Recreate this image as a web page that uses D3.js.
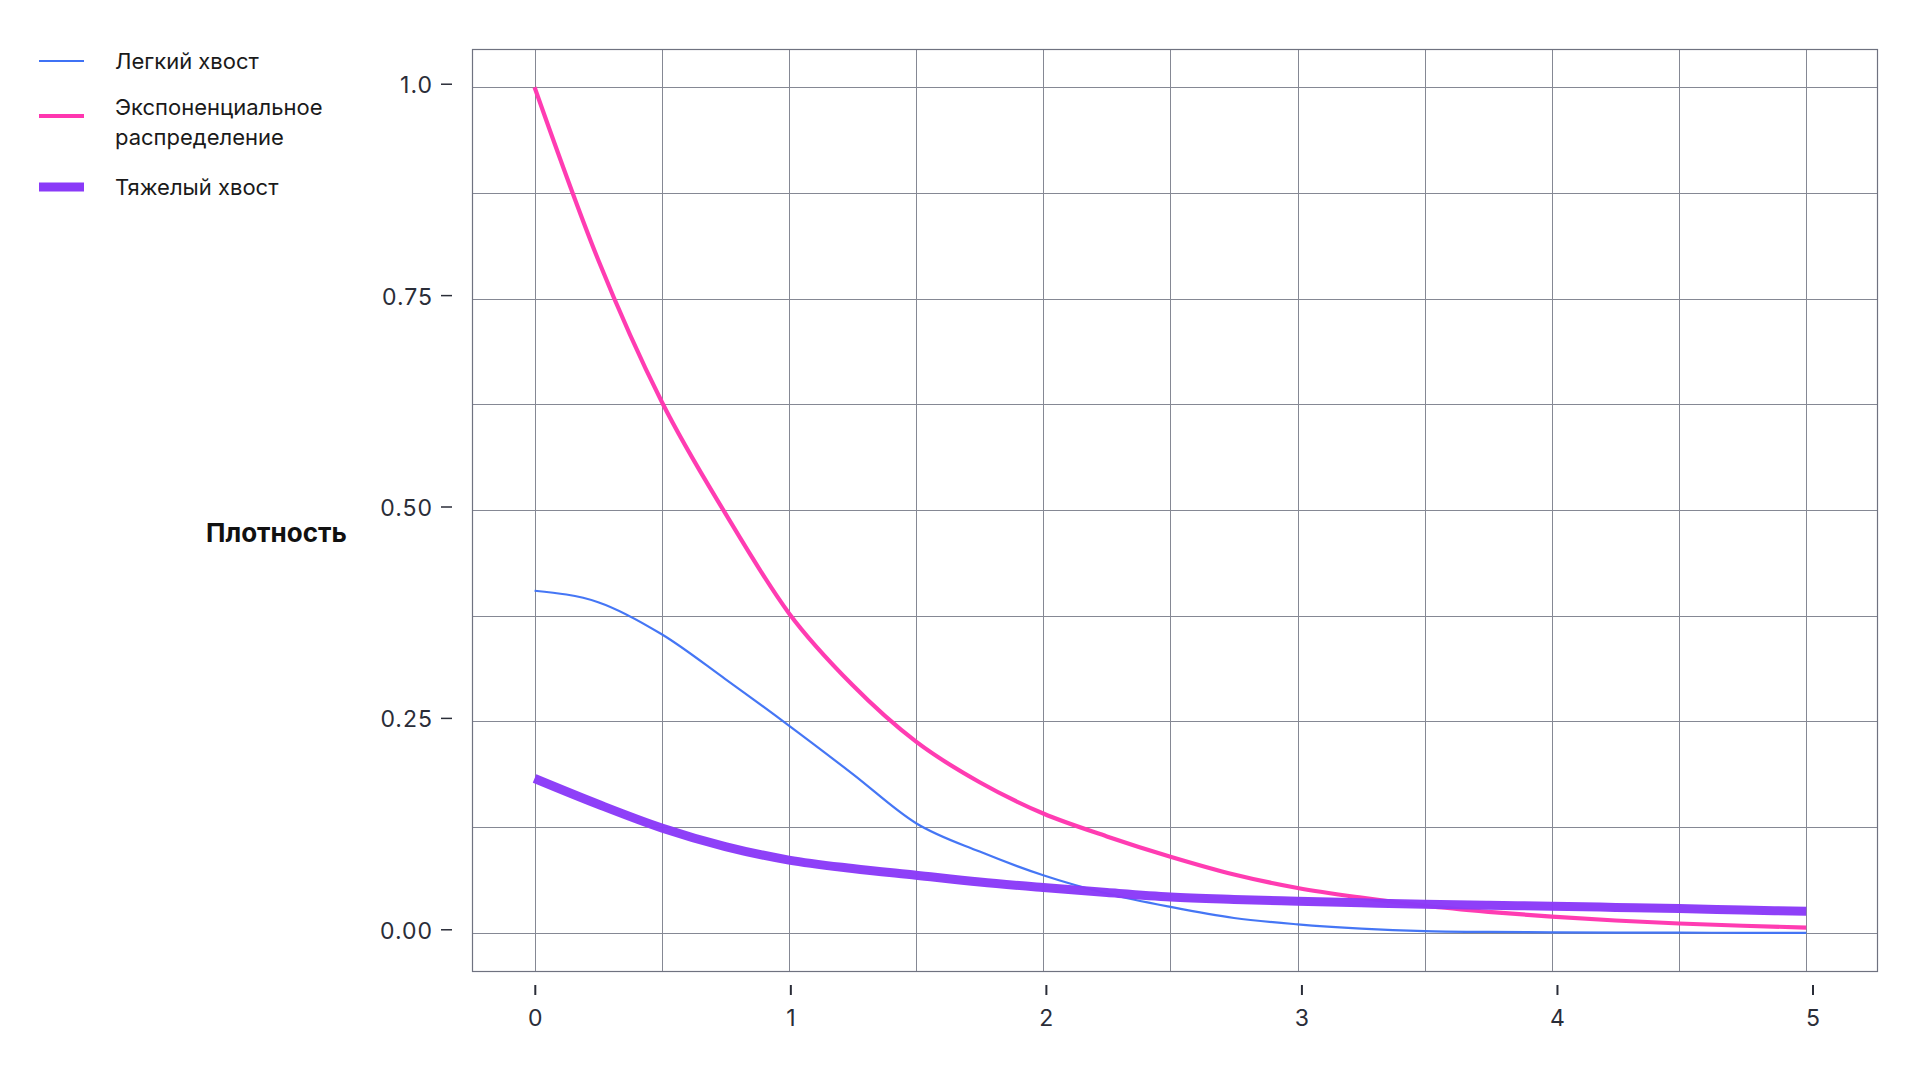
<!DOCTYPE html>
<html>
<head>
<meta charset="utf-8">
<script src="https://cdn.jsdelivr.net/npm/d3@7"></script>
<style>
  html, body { margin: 0; padding: 0; background: #ffffff; }
  svg { display: block; font-family: Inter, "Noto Sans", sans-serif; }
</style>
</head>
<body>
<svg id="chart" width="1921" height="1081"></svg>
<script>
// ---- data ----
const xs = [0, 0.25, 0.5, 0.75, 1, 1.25, 1.5, 1.75, 2, 2.25, 2.5, 2.75, 3, 3.25, 3.5, 3.75, 4, 4.25, 4.5, 4.75, 5];
const lightTail = [0.4045, 0.391, 0.353, 0.300, 0.245, 0.188, 0.1296, 0.096, 0.068, 0.0464, 0.0306, 0.0175, 0.010, 0.005, 0.002, 0.001, 0.0005, 0.0002, 0.0001, 0.0, 0.0];
const exponential = [1.0, 0.796, 0.628, 0.496, 0.378, 0.293, 0.226, 0.178, 0.141, 0.114, 0.090, 0.069, 0.053, 0.0415, 0.032, 0.0248, 0.019, 0.0145, 0.011, 0.0083, 0.0062];
const heavyTail = [0.1825, 0.152, 0.124, 0.102, 0.086, 0.076, 0.068, 0.060, 0.0535, 0.0476, 0.0424, 0.0395, 0.0373, 0.0354, 0.0337, 0.0325, 0.0315, 0.030, 0.0286, 0.027, 0.0254];
const seriesNames = ["Легкий хвост", "Экспоненциальное распределение", "Тяжелый хвост"];
const xTicks = [0, 1, 2, 3, 4, 5];
const xTickLabels = ["0", "1", "2", "3", "4", "5"];
const yTicks = [0, 0.25, 0.5, 0.75, 1.0];
const yTickLabels = ["0.00", "0.25", "0.50", "0.75", "1.0"];
const xGrid = [0, 0.5, 1, 1.5, 2, 2.5, 3, 3.5, 4, 4.5, 5];
const yGrid = [0, 0.125, 0.25, 0.375, 0.5, 0.625, 0.75, 0.875, 1.0];
const yTitle = "Плотность";

// ---- layout ----
const panel = { left: 472, right: 1877, top: 49, bottom: 971 };
const x = d3.scaleLinear().domain([-0.246, 5.278]).range([panel.left, panel.right]);
const xTickScale = d3.scaleLinear().domain([0, 5]).range([535.3, 1813]);
const y = d3.scaleLinear().domain([-0.0452, 1.0452]).range([panel.bottom, panel.top]);

const svg = d3.select("#chart");
const gridColor = "#858894";

// gridlines
const g = svg.append("g");
g.selectAll("line.vx").data(xGrid).enter().append("line")
  .attr("x1", d => Math.round(x(d)) + 0.5).attr("x2", d => Math.round(x(d)) + 0.5)
  .attr("y1", panel.top).attr("y2", panel.bottom)
  .attr("stroke", gridColor).attr("stroke-width", 1);
g.selectAll("line.hy").data(yGrid).enter().append("line")
  .attr("y1", d => Math.round(y(d)) + 0.5).attr("y2", d => Math.round(y(d)) + 0.5)
  .attr("x1", panel.left).attr("x2", panel.right)
  .attr("stroke", gridColor).attr("stroke-width", 1);

// panel border
svg.append("rect")
  .attr("x", panel.left + 0.5).attr("y", panel.top + 0.5)
  .attr("width", panel.right - panel.left).attr("height", panel.bottom - panel.top)
  .attr("fill", "none").attr("stroke", "#6f7280").attr("stroke-width", 1.2);

// clip
svg.append("clipPath").attr("id", "clip").append("rect")
  .attr("x", panel.left).attr("y", panel.top)
  .attr("width", panel.right - panel.left).attr("height", panel.bottom - panel.top);

// lines
const series = [
  { name: seriesNames[0], values: lightTail, color: "#3f72f5", width: 2.2 },
  { name: seriesNames[1], values: exponential, color: "#ff36b0", width: 4.2 },
  { name: seriesNames[2], values: heavyTail, color: "#8a3af8", width: 9 }
];
const line = d3.line().x(d => x(d[0])).y(d => y(d[1])).curve(d3.curveMonotoneX);
svg.append("g").attr("clip-path", "url(#clip)")
  .selectAll("path").data(series).enter().append("path")
  .attr("d", s => line(xs.map((v, i) => [v, s.values[i]])))
  .attr("fill", "none").attr("stroke", s => s.color).attr("stroke-width", s => s.width)
  .attr("stroke-linejoin", "round").attr("stroke-linecap", "butt").attr("opacity", 0.97);

// y axis ticks + labels
const yAxis = svg.append("g");
yAxis.selectAll("line").data(yTicks).enter().append("line")
  .attr("x1", 441).attr("x2", 452)
  .attr("y1", d => y(d) - 3).attr("y2", d => y(d) - 3)
  .attr("stroke", "#2a2d38").attr("stroke-width", 1.5);
yAxis.selectAll("text").data(yTicks).enter().append("text")
  .attr("x", 433).attr("y", d => y(d) - 2)
  .attr("text-anchor", "end").attr("dominant-baseline", "central")
  .attr("font-size", 23).attr("letter-spacing", 1).attr("fill", "#2a2d38")
  .text((d, i) => yTickLabels[i]);

// x axis ticks + labels
const xAxis = svg.append("g");
xAxis.selectAll("line").data(xTicks).enter().append("line")
  .attr("x1", d => xTickScale(d)).attr("x2", d => xTickScale(d))
  .attr("y1", 985).attr("y2", 995)
  .attr("stroke", "#2a2d38").attr("stroke-width", 2);
xAxis.selectAll("text").data(xTicks).enter().append("text")
  .attr("x", d => xTickScale(d)).attr("y", 1018)
  .attr("text-anchor", "middle").attr("dominant-baseline", "central")
  .attr("font-size", 23).attr("fill", "#2a2d38")
  .text((d, i) => xTickLabels[i]);

// y title
svg.append("text")
  .attr("x", 206).attr("y", 532)
  .attr("dominant-baseline", "central")
  .attr("font-size", 26).attr("font-weight", 700).attr("fill", "#111")
  .text(yTitle);

// legend
const legend = svg.append("g");
const legendItems = [
  { s: series[0], y: 61, lines: ["Легкий хвост"] },
  { s: series[1], y: 116, lines: ["Экспоненциальное", "распределение"] },
  { s: series[2], y: 187, lines: ["Тяжелый хвост"] }
];
legendItems.forEach(item => {
  legend.append("line")
    .attr("x1", 39).attr("x2", 84).attr("y1", item.y).attr("y2", item.y)
    .attr("stroke", item.s.color).attr("stroke-width", item.s.width);
  const t = legend.append("text")
    .attr("x", 115).attr("font-size", 22).attr("fill", "#1a1a1a");
  const startY = item.lines.length === 1 ? item.y : item.y - 9;
  item.lines.forEach((l, k) => {
    t.append("tspan").attr("x", 115).attr("y", startY + k * 30)
      .attr("dominant-baseline", "central").text(l);
  });
});
</script>
</body>
</html>
